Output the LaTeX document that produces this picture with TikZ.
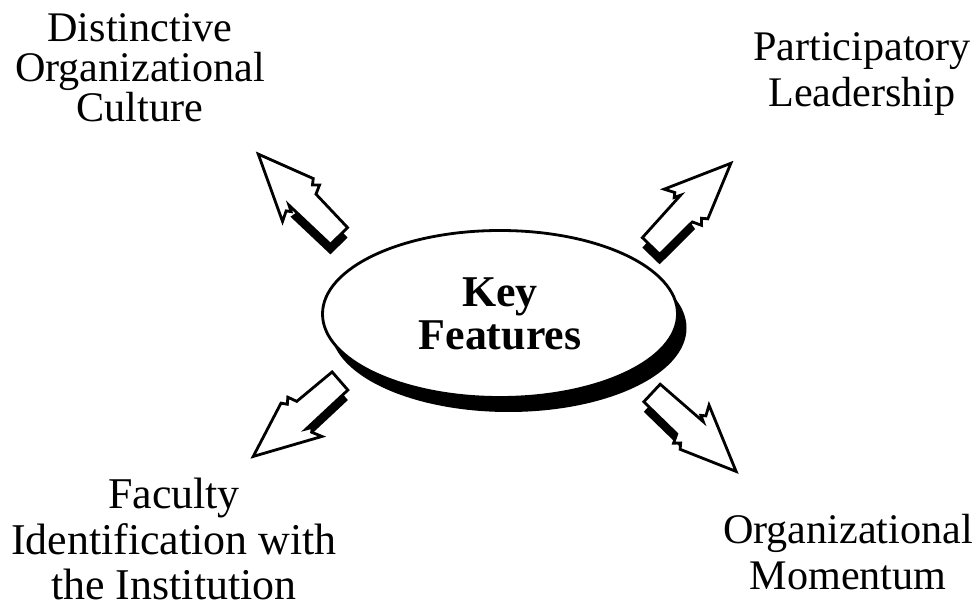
\documentclass[tikz,border=0pt]{standalone}
\usepackage{fontspec}
\setmainfont{Liberation Serif}
\usetikzlibrary{shapes.geometric}

\begin{document}
\begin{tikzpicture}[thick,
	lbl/.style={align=center, font=\fontsize{24}{26.5}\selectfont},
	keyoval/.style={ellipse, draw, line width=1.6pt, fill=white, minimum width=7.1cm,
		minimum height=3.34cm, inner sep=0pt, align=center,
		font=\fontsize{25}{24.4}\selectfont\bfseries},
	bolt/.pic={
		\filldraw[fill=white, line width=1.6pt, line join=miter]
		(0,-0.24) -- (0.92,-0.26) -- (1.0,-0.44) -- (1.1,-0.34) -- (1.18,-0.44)
		-- (2.3,0) -- (1.0,0.6) -- (1.1,0.4) -- (1.02,0.34) -- (1.14,0.28)
		-- (0,0.24) -- cycle;
	},
	boltshade/.pic={
		\fill (0,-0.24) -- (1.0,-0.26) -- (1.1,0.28) -- (0,0.24) -- cycle;
	}]
	\useasboundingbox (0,0) rectangle (19.52,12.3);
	% Oval with its shadow
	\fill (10.17,5.74) ellipse [x radius=3.56, y radius=1.68];
	\node[keyoval] (key) at (10.0,6.02) {Key\\Features};
	% Bolt arrows (tail x / tail y / angle)
	\foreach \x/\y/\a in {6.78/7.58/134.6, 13.02/7.38/46, 6.80/4.68/221, 13.04/4.44/-43}{
		\pic[rotate=\a] at (\x,\y-0.2) {boltshade};
		\pic[rotate=\a] at (\x,\y) {bolt};
	}
	% Labels
	\node[lbl, font=\fontsize{24}{22.8}\selectfont] (culture) at (2.8,10.95)
	{Distinctive\\Organizational\\Culture};
	\node[lbl] (leadership) at (17.24,10.82) {Participatory\\Leadership};
	\node[lbl, font=\fontsize{25}{26}\selectfont] (faculty) at (3.48,1.52)
	{Faculty\\Identification with\\the Institution};
	\node[lbl] (momentum) at (16.96,1.26) {Organizational\\Momentum};
\end{tikzpicture}
\end{document}
